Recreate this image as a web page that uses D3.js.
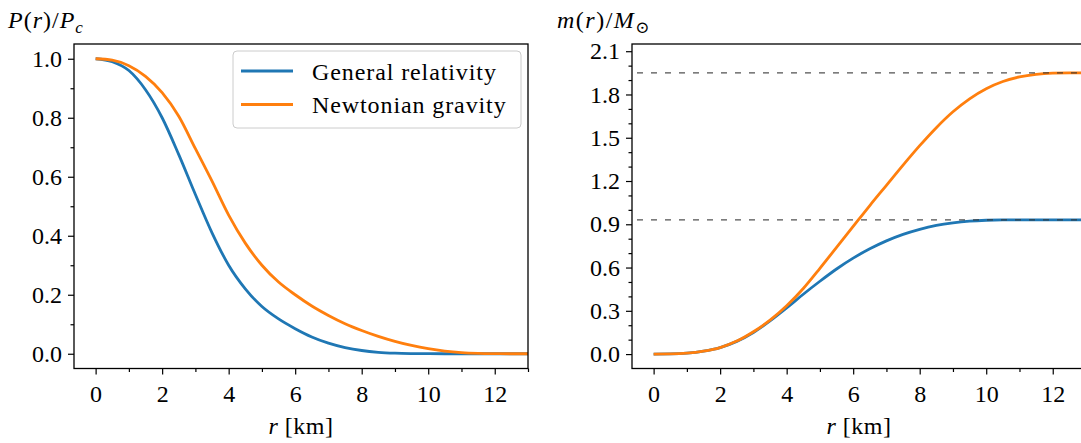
<!DOCTYPE html>
<html>
<head>
<meta charset="utf-8">
<script src="https://cdn.jsdelivr.net/npm/d3@7"></script>
<style>
  body { margin: 0; background: #fff; }
  svg { display: block; }
  svg text { font-family: "Liberation Serif", "Times New Roman", "DejaVu Serif", serif; }
</style>
</head>
<body>
<div id="chart"></div>
<script>
const svgWidth = 1081
const svgHeight = 443

// radius in km, sampled every 0.5
const radius = [0, 0.5, 1, 1.5, 2, 2.5, 3, 3.5, 4, 4.5, 5, 5.5, 6, 6.5, 7, 7.5, 8, 8.5, 9, 9.5, 10, 10.5, 11, 11.5, 12, 12.5, 13]

// P(r)/Pc
const pressureGR = [1, 0.99, 0.96, 0.895, 0.80, 0.675, 0.54, 0.41, 0.30, 0.22, 0.16, 0.118, 0.085, 0.057, 0.036, 0.021, 0.011, 0.005, 0.002, 0.0007, 0.0002, 0, 0, 0, 0, 0, 0]
const pressureNewton = [1, 0.995, 0.976, 0.94, 0.885, 0.805, 0.695, 0.585, 0.47, 0.375, 0.3, 0.243, 0.2, 0.162, 0.13, 0.102, 0.079, 0.059, 0.042, 0.028, 0.017, 0.009, 0.004, 0.0015, 0.0004, 0, 0]

// m(r)/Msun
const massGR = [0, 0.001, 0.006, 0.02, 0.045, 0.088, 0.15, 0.23, 0.32, 0.415, 0.505, 0.59, 0.665, 0.73, 0.785, 0.83, 0.865, 0.892, 0.91, 0.922, 0.928, 0.93, 0.93, 0.93, 0.93, 0.93, 0.93]
const massNewton = [0, 0.001, 0.006, 0.02, 0.045, 0.09, 0.155, 0.235, 0.335, 0.455, 0.595, 0.74, 0.885, 1.03, 1.17, 1.31, 1.445, 1.57, 1.68, 1.77, 1.84, 1.89, 1.922, 1.94, 1.948, 1.95, 1.95]

// total masses (dashed reference lines)
const totalMass = [1.95, 0.93]

const seriesNames = ["General relativity", "Newtonian gravity"]
const colors = ["#1f77b4", "#ff7f0e"]

const xMajor = [0, 2, 4, 6, 8, 10, 12]
const xMinor = [1, 3, 5, 7, 9, 11, 13]
const pMajor = [0, 0.2, 0.4, 0.6, 0.8, 1.0]
const pMinor = [0.1, 0.3, 0.5, 0.7, 0.9]
const mMajor = [0, 0.3, 0.6, 0.9, 1.2, 1.5, 1.8, 2.1]
const mMinor = [0.1, 0.2, 0.4, 0.5, 0.7, 0.8, 1.0, 1.1, 1.3, 1.4, 1.6, 1.7, 1.9, 2.0]

const fontSize = 24
const plotTop = 44, plotBottom = 368.5

const svg = d3.select("#chart").append("svg")
  .attr("width", svgWidth)
  .attr("height", svgHeight)

function panel(x0, x1, yDomain, yMajor, yMinor, yFmt) {
  const x = d3.scaleLinear().domain([-0.65, 13]).range([x0, x1])
  const y = d3.scaleLinear().domain(yDomain).range([plotBottom, plotTop])

  const g = svg.append("g")

  // clip for curves
  const id = "clip" + x0
  svg.append("clipPath").attr("id", id).append("rect")
    .attr("x", x0).attr("y", plotTop).attr("width", x1 - x0).attr("height", plotBottom - plotTop)

  const plot = g.append("g").attr("clip-path", `url(#${id})`)

  // major / minor ticks
  const xAx = g.append("g").attr("transform", `translate(0, ${plotBottom})`)
    .call(d3.axisBottom(x).tickValues(xMajor).tickSize(6).tickFormat(d3.format("d")))
  xAx.selectAll("text").attr("y", 16).attr("dy", "0.71em")
  g.append("g").attr("transform", `translate(0, ${plotBottom})`)
    .call(d3.axisBottom(x).tickValues(xMinor.filter(v => x(v) < svgWidth)).tickSize(3.5).tickFormat(""))

  g.append("g").attr("transform", `translate(${x0}, 0)`)
    .call(d3.axisLeft(y).tickValues(yMajor).tickSize(6).tickPadding(6).tickFormat(yFmt))
  g.append("g").attr("transform", `translate(${x0}, 0)`)
    .call(d3.axisLeft(y).tickValues(yMinor).tickSize(3.5).tickFormat(""))

  g.selectAll(".domain").remove()
  g.selectAll(".tick line").attr("stroke", "#000").attr("stroke-width", 1.2)
  g.selectAll(".tick text")
    .attr("font-size", fontSize)
    .attr("fill", "#000")

  // spines
  g.append("rect")
    .attr("x", x0).attr("y", plotTop)
    .attr("width", x1 - x0).attr("height", plotBottom - plotTop)
    .attr("fill", "none").attr("stroke", "#000").attr("stroke-width", 1.3)

  // x label
  const lab = g.append("text")
    .attr("x", (x0 + x1) / 2).attr("y", 434)
    .attr("text-anchor", "middle").attr("font-size", fontSize)
    .attr("letter-spacing", 0.5)
  lab.append("tspan").attr("font-style", "italic").text("r")
  lab.append("tspan").text(" [km]")

  return { x, y, plot, g }
}

function drawCurves(p, series) {
  const line = d3.line()
    .x((d, i) => p.x(radius[i]))
    .y(d => p.y(d))
    .curve(d3.curveMonotoneX)
  series.forEach((s, k) => {
    p.plot.append("path")
      .datum(s)
      .attr("d", line)
      .attr("fill", "none")
      .attr("stroke", colors[k])
      .attr("stroke-width", 2.8)
  })
}

// ---- left panel: pressure
const leftPanel = panel(74, 528, [-0.05, 1.05], pMajor, pMinor, d3.format(".1f"))
drawCurves(leftPanel, [pressureGR, pressureNewton])

const yl = svg.append("text").attr("x", 8).attr("y", 28).attr("font-size", fontSize).attr("letter-spacing", 1)
yl.append("tspan").attr("font-style", "italic").text("P")
yl.append("tspan").text("(")
yl.append("tspan").attr("font-style", "italic").text("r")
yl.append("tspan").text(")/")
yl.append("tspan").attr("font-style", "italic").text("P")
yl.append("tspan").attr("font-style", "italic").attr("font-size", 17).attr("dy", 5).text("c")

// legend
const leg = svg.append("g")
leg.append("rect")
  .attr("x", 233).attr("y", 51).attr("width", 288).attr("height", 77).attr("rx", 4)
  .attr("fill", "#fff").attr("fill-opacity", 0.8)
  .attr("stroke", "#cccccc").attr("stroke-width", 1)
seriesNames.forEach((name, k) => {
  const yy = 71 + k * 33.5
  leg.append("line")
    .attr("x1", 241).attr("x2", 293).attr("y1", yy).attr("y2", yy)
    .attr("stroke", colors[k]).attr("stroke-width", 2.8)
  leg.append("text")
    .attr("x", 312).attr("y", yy + 8.5)
    .attr("font-size", fontSize)
    .attr("letter-spacing", 0.9)
    .text(name)
})

// ---- right panel: mass
const rightPanel = panel(632, 1086, [-0.1, 2.15], mMajor, mMinor, d3.format(".1f"))

drawCurves(rightPanel, [massGR, massNewton])

// dashed total-mass lines
rightPanel.plot.selectAll("line.total")
  .data(totalMass)
  .enter()
  .append("line")
  .attr("class", "total")
  .attr("x1", rightPanel.x(-0.5)).attr("x2", rightPanel.x(13))
  .attr("y1", d => rightPanel.y(d)).attr("y2", d => rightPanel.y(d))
  .attr("stroke", "#333").attr("stroke-opacity", 0.85).attr("stroke-width", 1.2)
  .attr("stroke-dasharray", "6,8")

const ml = svg.append("text").attr("x", 557).attr("y", 28).attr("font-size", fontSize).attr("letter-spacing", 1.5)
ml.append("tspan").attr("font-style", "italic").text("m")
ml.append("tspan").text("(")
ml.append("tspan").attr("font-style", "italic").text("r")
ml.append("tspan").text(")/")
ml.append("tspan").attr("font-style", "italic").text("M")
ml.append("tspan").attr("font-size", 17).attr("dy", 5).text("⊙")
</script>
</body>
</html>
